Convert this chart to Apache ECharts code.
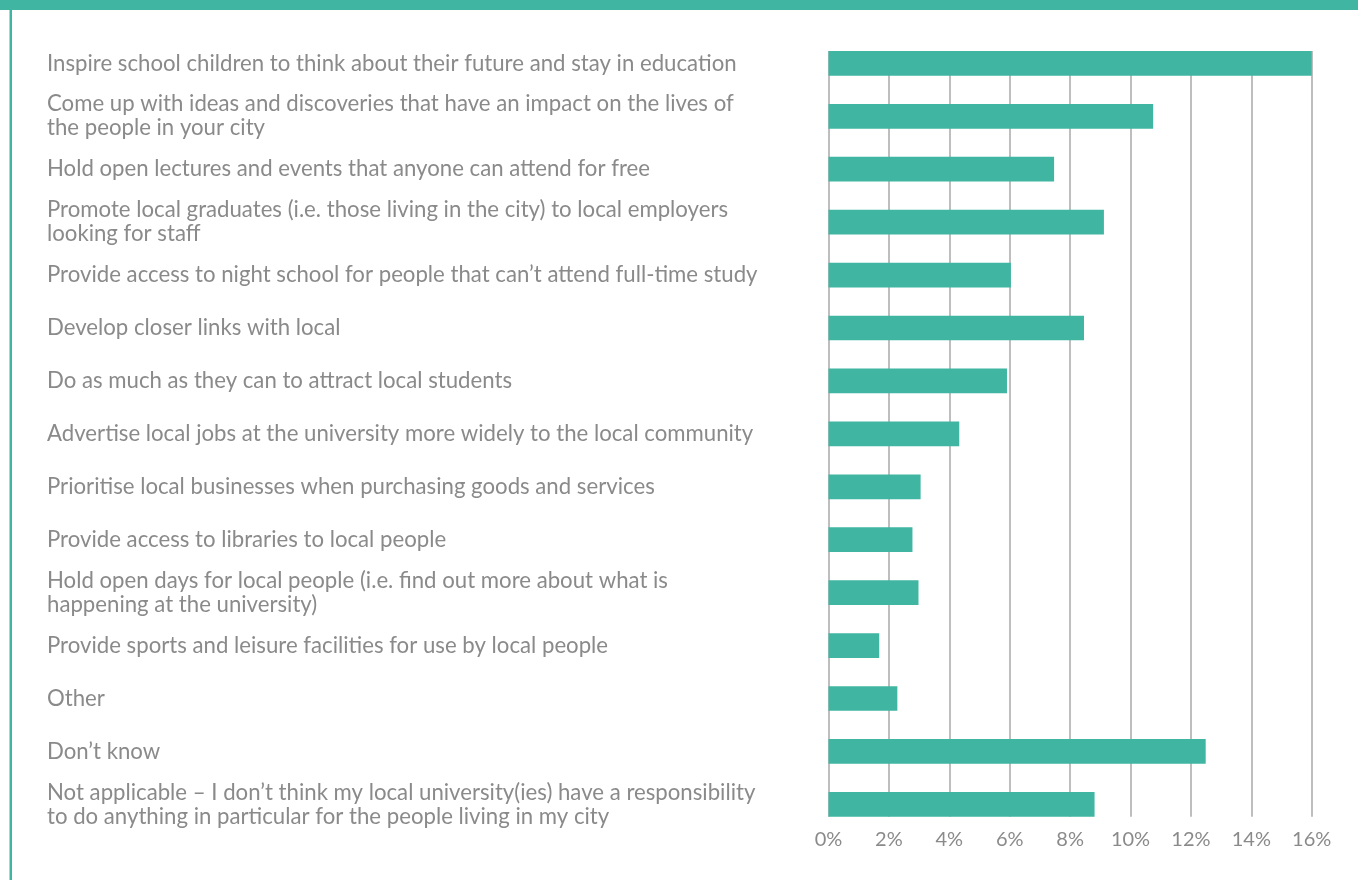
<!DOCTYPE html>
<html>
<head>
<meta charset="utf-8">
<script src="https://cdn.jsdelivr.net/npm/echarts@6/dist/echarts.min.js"></script>
<style>
html,body{margin:0;padding:0;background:#fff;}
#chart{width:1358px;height:880px;}
</style>
</head>
<body>
<div id="chart"></div>
<script>
const categories = [
  "Inspire school children to think about their future and stay in education",
  "Come up with ideas and discoveries that have an impact on the lives of\nthe people in your city",
  "Hold open lectures and events that anyone can attend for free",
  "Promote local graduates (i.e. those living in the city) to local employers\nlooking for staff",
  "Provide access to night school for people that can\u2019t attend full-time study",
  "Develop closer links with local",
  "Do as much as they can to attract local students",
  "Advertise local jobs at the university more widely to the local community",
  "Prioritise local businesses when purchasing goods and services",
  "Provide access to libraries to local people",
  "Hold open days for local people (i.e. find out more about what is\nhappening at the university)",
  "Provide sports and leisure facilities for use by local people",
  "Other",
  "Don\u2019t know",
  "Not applicable \u2013 I don\u2019t think my local university(ies) have a responsibility\nto do anything in particular for the people living in my city"
];
const values = [16.0, 10.75, 7.47, 9.12, 6.04, 8.46, 5.91, 4.33, 3.05, 2.78, 2.98, 1.68, 2.28, 12.49, 8.81];
const tickMin = 0, tickMax = 16, tickStep = 2;

const teal = '#40b6a2';
const gray = '#8a8a8a';
const fontFamily = 'Lato, "Noto Sans", sans-serif';

// fit label font size to reference text width
const ctx = document.createElement('canvas').getContext('2d');
ctx.font = '100px ' + fontFamily;
const w100 = ctx.measureText(categories[0]).width;
const labelSize = Math.round(100 * 691 / w100 * 10) / 10;

const chart = echarts.init(document.getElementById('chart'), null, {renderer: 'canvas'});
const W = 1358, H = 880;
const gridLeft = 828.5, gridRight = W - 1311.7;

chart.setOption({
  animation: false,
  graphic: [
    {type: 'rect', shape: {x: 0, y: 0, width: W, height: 10}, style: {fill: teal}, z: 100},
    {type: 'rect', shape: {x: 9.5, y: 10, width: 2.5, height: H - 10}, style: {fill: teal}, z: 100}
  ],
  grid: [
    {left: gridLeft, right: gridRight, top: 36.9, bottom: H - 830.8, containLabel: false},
    {left: gridLeft, right: gridRight, top: 51, bottom: H - 816.7, containLabel: false}
  ],
  xAxis: [
    {gridIndex: 0, type: 'value', min: tickMin, max: tickMax, interval: tickStep,
     axisLine: {show: false}, axisTick: {show: false}, axisLabel: {show: false}, splitLine: {show: false}},
    {gridIndex: 1, type: 'value', min: tickMin, max: tickMax, interval: tickStep,
     axisLine: {show: false}, axisTick: {show: false},
     axisLabel: {formatter: '{value}%', color: gray, fontSize: 20, fontFamily: fontFamily, margin: 13},
     splitLine: {show: true, lineStyle: {color: '#a9a9a9', width: 1.5}}}
  ],
  yAxis: [
    {gridIndex: 0, type: 'category', data: categories, inverse: true,
     axisLine: {show: false}, axisTick: {show: false}, splitLine: {show: false},
     axisLabel: {align: 'left', margin: gridLeft - 47, color: gray, fontSize: labelSize,
       fontFamily: fontFamily, lineHeight: 24, interval: 0}},
    {gridIndex: 1, type: 'category', data: categories, inverse: true, show: false}
  ],
  series: [{
    type: 'bar', xAxisIndex: 0, yAxisIndex: 0, data: values, barWidth: 24.7,
    itemStyle: {color: teal}, silent: true, z: 5
  }]
});
</script>
</body>
</html>
